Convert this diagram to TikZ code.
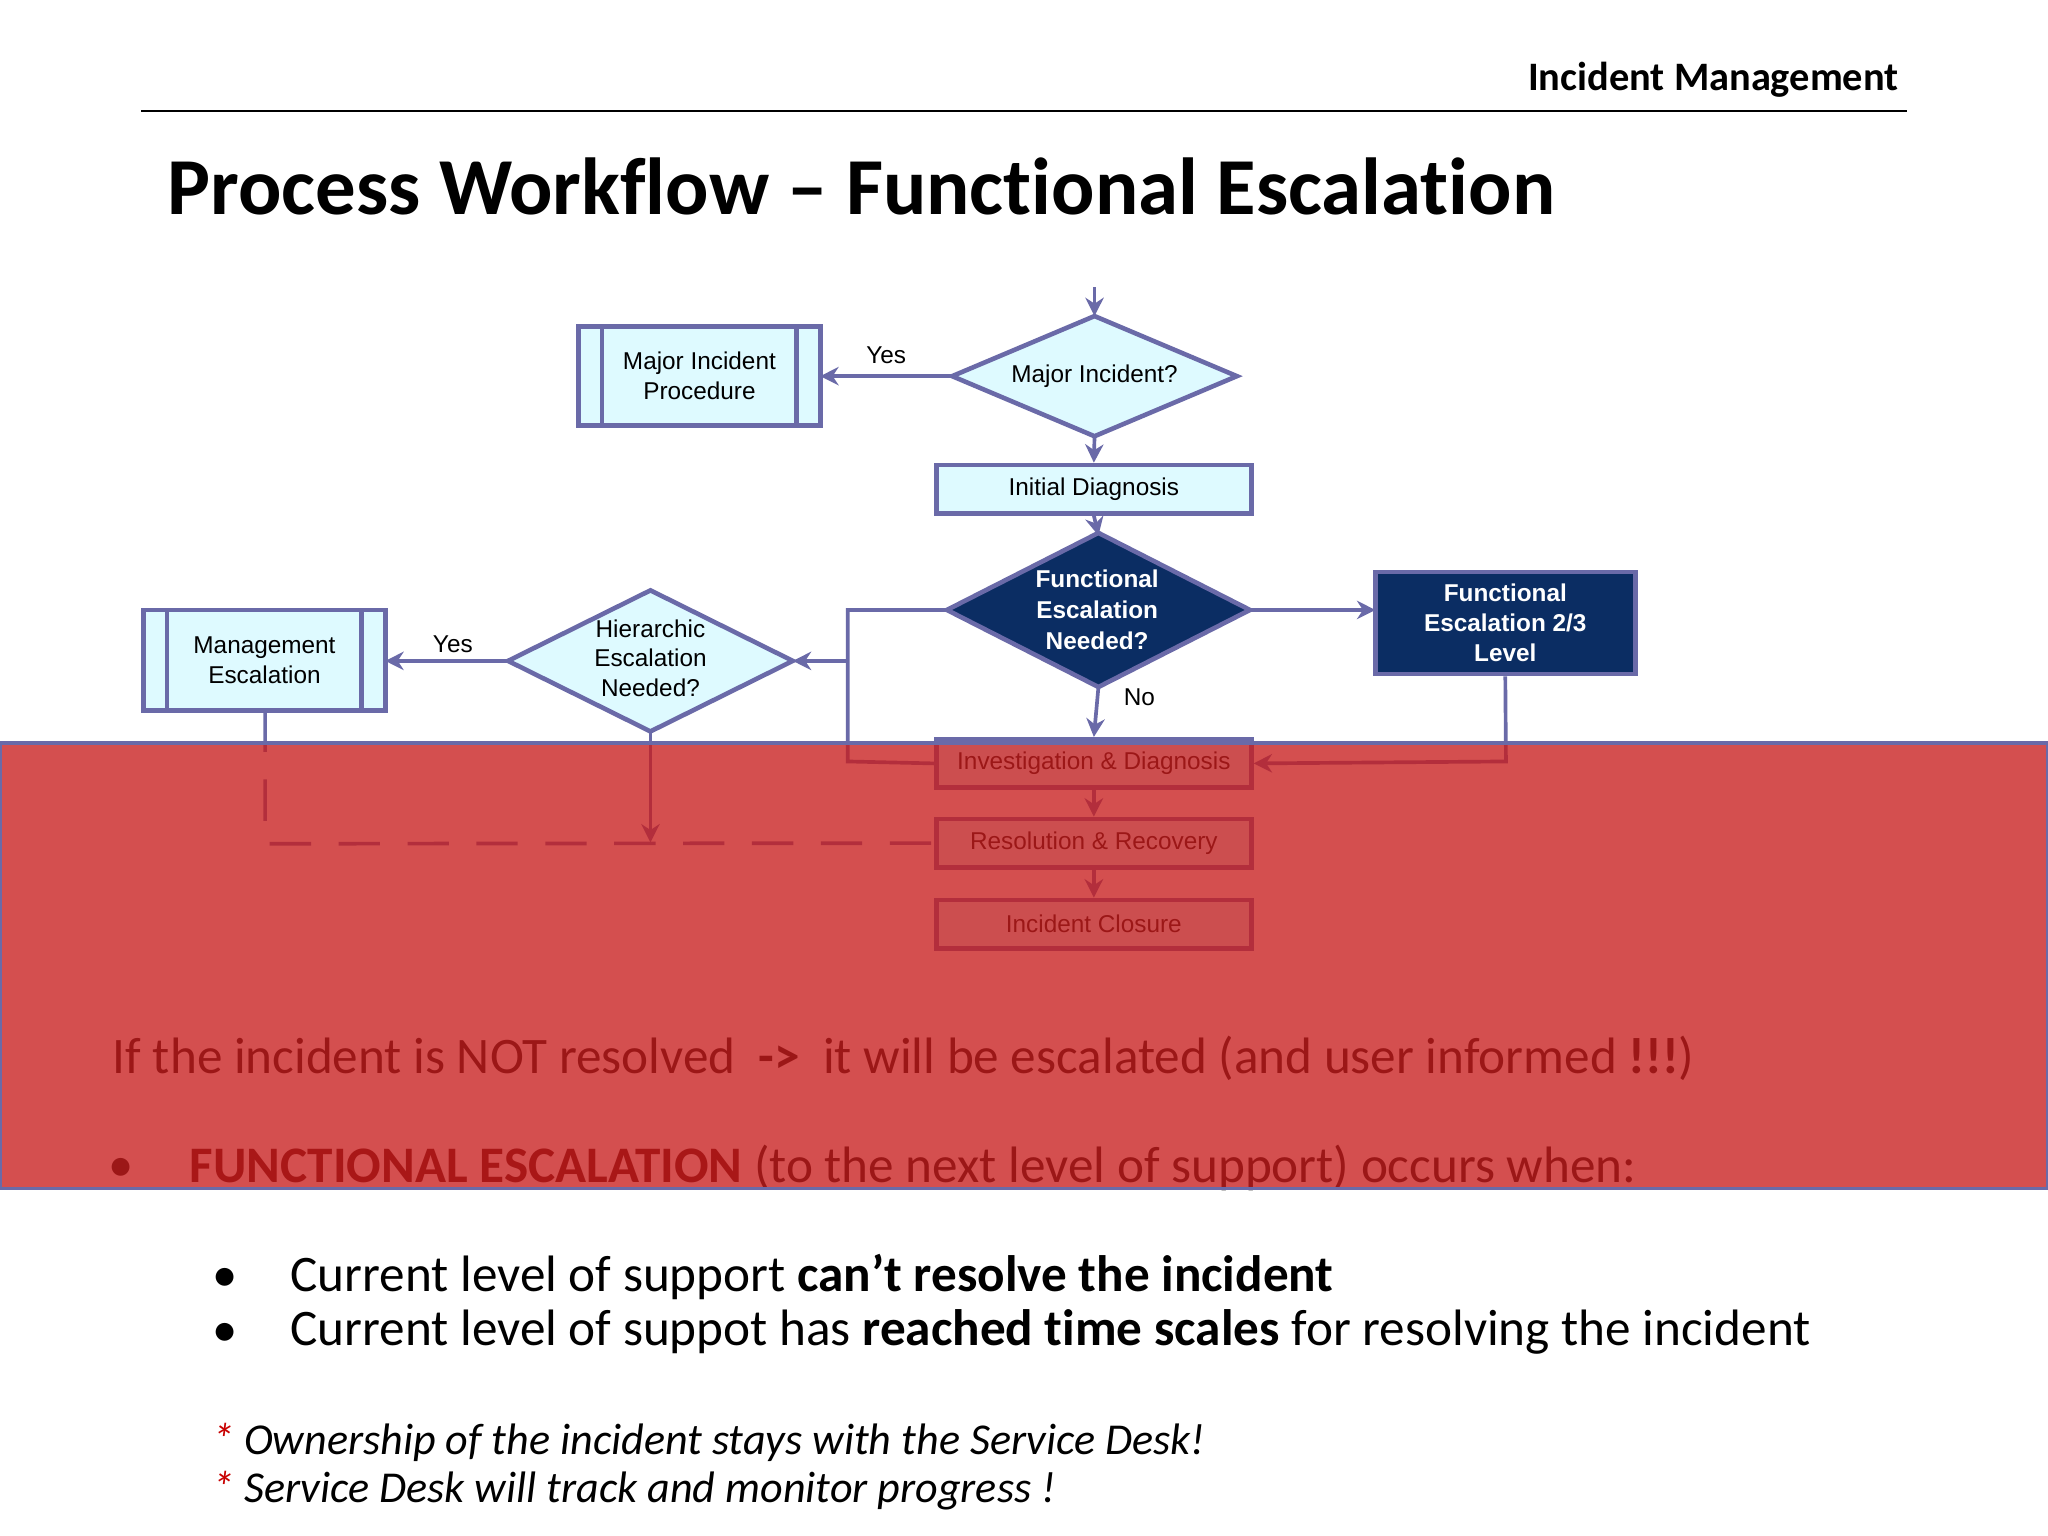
\documentclass[tikz,border=0pt]{standalone}
\usepackage{fontspec}
\setmainfont[Ligatures=NoCommon]{Carlito}
\newfontfamily\diag{Liberation Sans}
\usetikzlibrary{shapes.geometric,arrows.meta}
\definecolor{edge}{RGB}{106,106,168}
\definecolor{lightbox}{RGB}{222,250,255}
\definecolor{navy}{RGB}{11,45,99}
\definecolor{redveil}{RGB}{200,30,30}
\definecolor{starred}{RGB}{200,0,0}
\tikzset{
  box/.style={draw=edge,line width=1pt,fill=lightbox,font=\diag\fontsize{5.3}{6.5}\selectfont,align=center,inner sep=0pt},
  dbox/.style={box,fill=navy,text=white,font=\diag\bfseries\fontsize{5.3}{6.5}\selectfont},
  conn/.style={draw=edge,line width=0.8pt},
  arr/.style={conn,-{Stealth[length=4pt,width=4pt]}},
  lbl/.style={font=\diag\fontsize{5.3}{6.5}\selectfont},
  body/.style={anchor=west,font=\fontsize{11.15}{13}\selectfont}
}
\begin{document}
\begin{tikzpicture}[x=0.01cm,y=-0.01cm]
\useasboundingbox (0,0) rectangle (1568,1176);
\fill[white] (0,0) rectangle (1568,1176);
% header
\node[anchor=base east,font=\bfseries\fontsize{8.8}{10}\selectfont] (hdr) at (1466,69) {Incident Management};
\draw[line width=0.6pt] (108,85) -- (1460,85);
\node[anchor=base west,font=\bfseries\fontsize{17.6}{20}\selectfont] (title) at (116,164) {Process Workflow -- Functional Escalation};
% diagram nodes
\draw[box] (443,250) rectangle (628,326);
\draw[conn,line width=1pt] (461,250)--(461,326) (610,250)--(610,326);
\node[lbl,align=center] (mip) at (535.5,288) {Major Incident\\Procedure};
\coordinate (mipE) at (628,288);

\draw[box] (729,288)--(838,242)--(947,288)--(838,334)--cycle;
\node[lbl] (mi) at (838,288) {Major Incident?};

\node[box,minimum width=2.41cm,minimum height=0.37cm] (id) at (837.5,374.5) {Initial Diagnosis};

\draw[dbox] (725,467)--(841,408)--(957,467)--(841,526)--cycle;
\node[lbl,text=white,font=\diag\bfseries\fontsize{5.3}{6.7}\selectfont,align=center] (fen) at (840,467) {Functional\\Escalation\\Needed?};

\node[dbox,minimum width=1.99cm,minimum height=0.78cm] (fe23) at (1152.5,477) {Functional\\Escalation 2/3\\Level};

\draw[box] (389,506)--(498,452)--(607,506)--(498,560)--cycle;
\node[lbl,align=center] (hen) at (498,504) {Hierarchic\\Escalation\\Needed?};

\draw[box] (110,467) rectangle (295,544);
\draw[conn,line width=1pt] (128,467)--(128,544) (277,467)--(277,544);
\node[lbl,align=center] (me) at (202.5,505.5) {Management\\Escalation};

\node[box,minimum width=2.41cm,minimum height=0.37cm] (inv) at (837.5,584.5) {Investigation \& Diagnosis};
\node[box,minimum width=2.41cm,minimum height=0.37cm] (res) at (837.5,645.5) {Resolution \& Recovery};
\node[box,minimum width=2.41cm,minimum height=0.37cm] (clo) at (837.5,707.5) {Incident Closure};

% connectors
\coordinate (top) at (838,220);
\draw[arr] (top) -- (838,242);
\draw[arr] (729,288) -- (mipE) node[lbl,pos=0.5,above=-1pt] {Yes};
\draw[arr] (838,334) -- (id.north);
\draw[arr] (id.south) -- (841,410);
\draw[arr] (957,467) -- (1053,467);
\draw[arr] (841,526) -- (inv.north) node[lbl,pos=0.2,right=2pt] {No};
\draw[conn] (725,467) -- (649,467) -- (649,583) -- (inv.west);
\draw[arr] (649,506) -- (607,506);
\draw[arr] (fe23.south) -- (1153,583) -- (inv.east);
\draw[arr] (389,506) -- (295,506) node[lbl,pos=0.45,above=-2pt] {Yes};
\draw[arr] (498,560) -- (498,645);
\draw[conn,dashed,dash pattern=on 9pt off 6pt] (203,544) -- (203,646) -- (res.west);
\draw[arr] (inv.south) -- (res.north);
\draw[arr] (res.south) -- (clo.north);

% text
\node[body] (t1) at (74,810) {If the incident is NOT resolved \ \textbf{->} \ it will be escalated (and user informed \textbf{!!!})};
\node[anchor=center,font=\fontsize{11}{13}\selectfont] (b1) at (93,896) {•};
\node[body] (t2) at (133,894) {\textbf{\color[RGB]{60,0,0}FUNCTIONAL ESCALATION} (to the next level of support) occurs when:};
\node[anchor=center,font=\fontsize{11}{13}\selectfont] (b2) at (172,980) {•};
\node[body] (t3) at (210,978) {Current level of support \textbf{can’t resolve the incident}};
\node[anchor=center,font=\fontsize{11}{13}\selectfont] (b3) at (172,1022) {•};
\node[body] (t4) at (210,1020) {Current level of suppot has \textbf{reached time scales} for resolving the incident};
\node[body,font=\itshape\fontsize{9.6}{11}\selectfont] (f1) at (150,1104) {{\color{starred}*} Ownership of the incident stays with the Service Desk!};
\node[body,font=\itshape\fontsize{9.6}{11}\selectfont] (f2) at (150,1141) {{\color{starred}*} Service Desk will track and monitor progress !};

% red veil
\fill[redveil,opacity=0.78] (0,569) rectangle (1568,910);
\draw[edge,line width=0.8pt] (0,569) rectangle (1568,910);
\end{tikzpicture}
\end{document}
